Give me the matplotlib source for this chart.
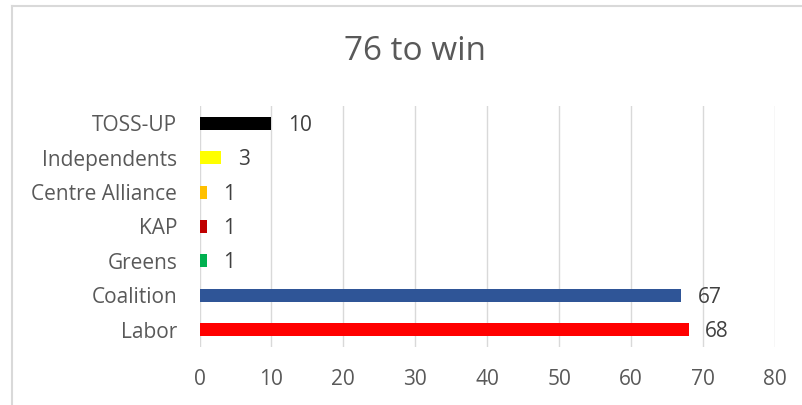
import matplotlib
matplotlib.use("Agg")
import matplotlib.pyplot as plt
from matplotlib.lines import Line2D

categories = ["Labor", "Coalition", "Greens", "KAP", "Centre Alliance", "Independents", "TOSS-UP"]
values = [68, 67, 1, 1, 1, 3, 10]
colors = ["#FF0000", "#2F5597", "#00B050", "#C00000", "#FFC000", "#FFFF00", "#000000"]
xticks = [0, 10, 20, 30, 40, 50, 60, 70, 80]
title = "76 to win"

plt.rcParams['font.family'] = ['Open Sans', 'DejaVu Sans']

fig = plt.figure(figsize=(8.02, 4.05), dpi=100)
ax = fig.add_axes([199.5/802, 1-347/405, (775-199.5)/802, (347-106)/405])

y = list(range(len(categories)))
ax.barh(y, values, height=0.38, color=colors, zorder=3)
ax.set_xlim(0, 80)
ax.set_ylim(-0.5, len(categories)-0.5)
ax.set_xticks(xticks)
ax.set_xticklabels([str(t) for t in xticks])
ax.set_yticks(y)
ax.set_yticklabels(categories)
ax.grid(axis='x', color='#D9D9D9', linewidth=1.0, zorder=0)
for s in ax.spines.values():
    s.set_visible(False)
ax.tick_params(axis='both', length=0, labelsize=15, colors='#595959')
ax.tick_params(axis='y', pad=16)
ax.tick_params(axis='x', pad=16)

for yi, v in zip(y, values):
    ax.annotate(str(v), xy=(v, yi - 0.06), xytext=(12, 0), textcoords='offset points',
                va='center', ha='left', fontsize=15, color='#404040')

fig.text(415/802, 1-52/405, title, ha='center', va='center', fontsize=24, color='#595959')

# chart frame (partially cropped)
fig.add_artist(Line2D([12/802, 12/802], [0, 1-6/405], transform=fig.transFigure, color='#D9D9D9', lw=1.5))
fig.add_artist(Line2D([12/802, 1], [1-6/405, 1-6/405], transform=fig.transFigure, color='#D9D9D9', lw=1.5))

fig.savefig("out.png", dpi=100)
